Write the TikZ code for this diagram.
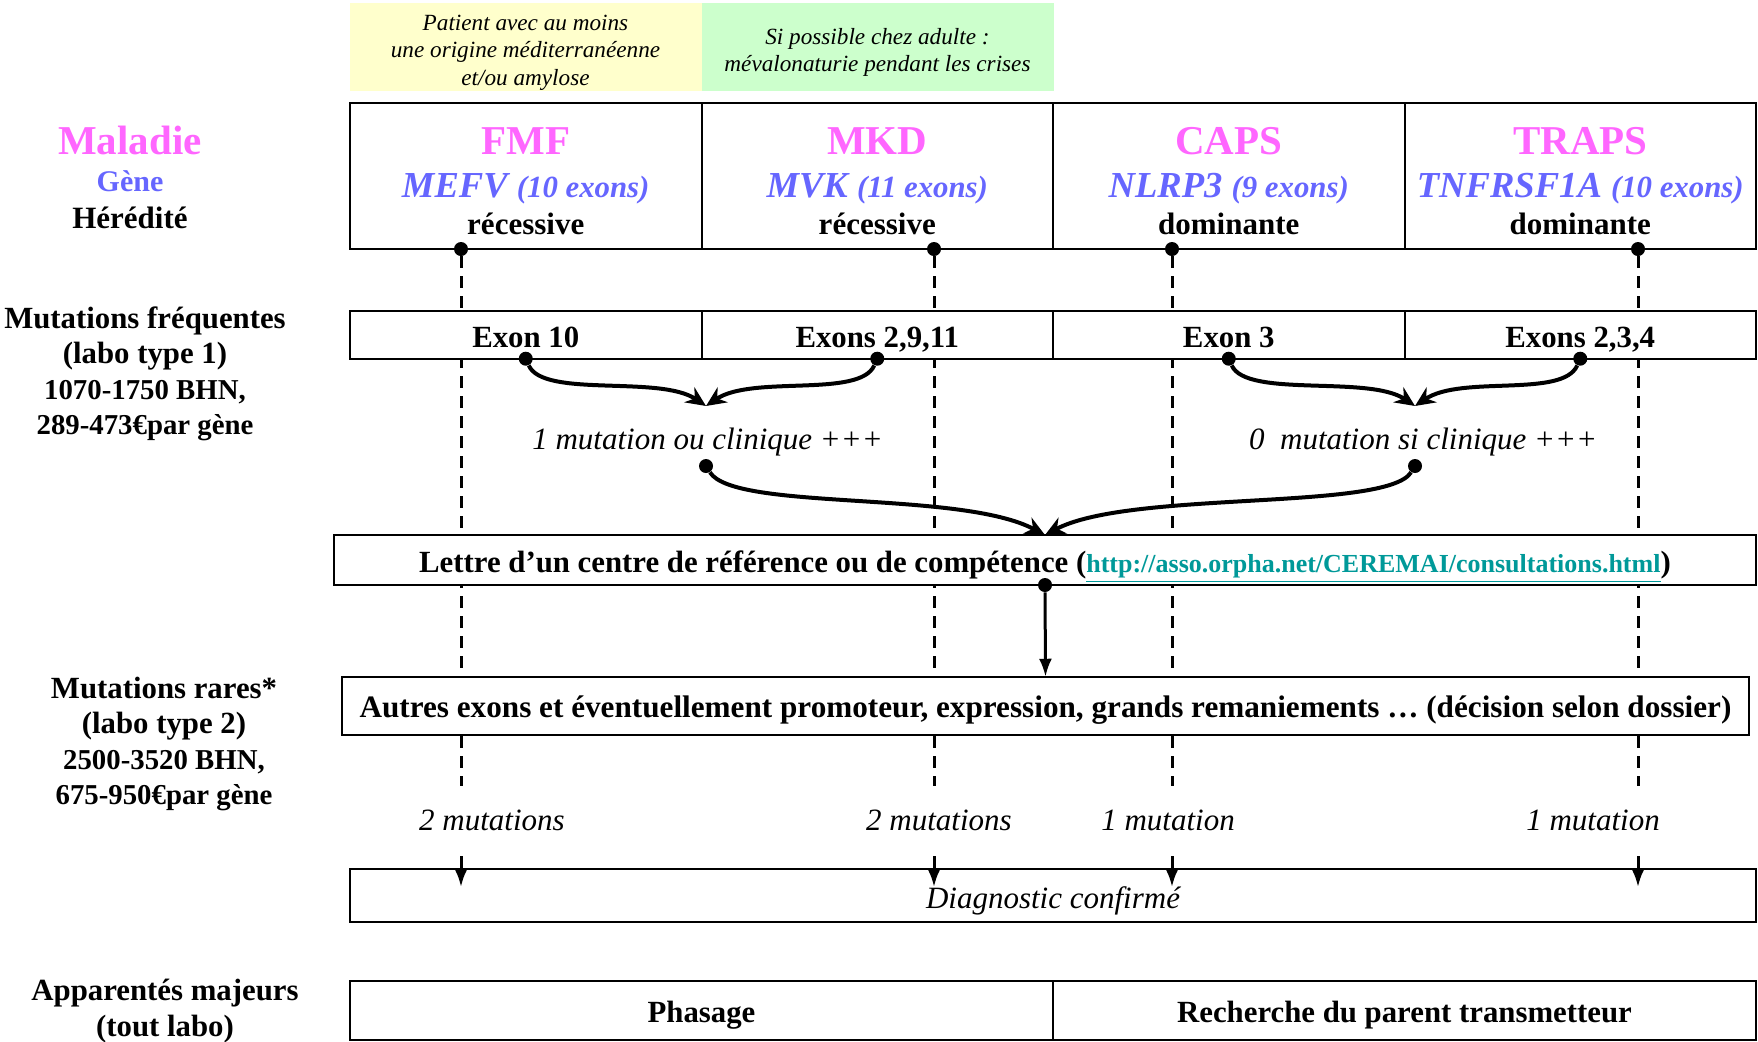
\documentclass[tikz,border=0pt]{standalone}
\usepackage{fontspec}
\setmainfont{Liberation Serif}
\usetikzlibrary{arrows.meta}
\usetikzlibrary{positioning}

\definecolor{maladie}{HTML}{FF66FF}
\definecolor{gene}{HTML}{6666FF}
\definecolor{jaune}{HTML}{FFFFCC}
\definecolor{vert}{HTML}{CCFFCC}
\definecolor{lien}{HTML}{009999}

\newcommand{\exonsub}{\fontsize{15.4}{18}\selectfont}
\newcommand{\prixsize}{\fontsize{14.4}{17.75}\selectfont}

\tikzset{
  cell/.style={draw, line width=1pt, fill=white, inner sep=0pt, outer sep=0pt,
    text height=12.8pt, text depth=0pt,
    font=\fontsize{15.4}{18}\selectfont\bfseries},
  header/.style={cell, minimum width=175.75pt, minimum height=73pt},
  exonrow/.style={cell, minimum width=175.75pt, minimum height=24pt},
  hint/.style={inner sep=0pt, outer sep=0pt, minimum width=176pt, minimum height=44pt},
  hinttext/.style={align=center, inner sep=0pt, font=\fontsize{11.6}{13.75}\selectfont\itshape},
  disease/.style={anchor=base, text=maladie, font=\fontsize{20.5}{24}\selectfont\bfseries},
  genename/.style={anchor=base, text=gene, font=\fontsize{18.3}{22}\selectfont\bfseries\itshape},
  hered/.style={anchor=base, font=\fontsize{15.5}{18}\selectfont\bfseries},
  rowlabel/.style={align=center, inner sep=0pt, font=\fontsize{15.4}{17.75}\selectfont\bfseries},
  result/.style={anchor=base, font=\fontsize{15.5}{18}\selectfont\itshape},
  mutcount/.style={result, fill=white, inner xsep=2pt, inner ysep=12pt},
  dot/.style={circle, fill=black, inner sep=0pt, minimum size=7pt},
  flow/.style={line width=2pt, -{Stealth[length=10pt,width=9pt]}},
  downarrow/.style={line width=1.5pt, -{Latex[length=9pt,width=6.5pt]}},
  track/.style={line width=1.5pt, dash pattern=on 6pt off 4pt, -{Latex[length=9pt,width=6.5pt]}},
}

\begin{document}
\begin{tikzpicture}[x=0.5pt, y=-0.5pt]
  \useasboundingbox (0,0) rectangle (1758,1041);

  % indications au-dessus du tableau
  \node[hint, fill=jaune] (hintfmf) at (525.5,47) {};
  \node[hint, fill=vert, right=0pt of hintfmf] (hintmkd) {};
  \node[hinttext] (hintfmftext) at ([yshift=-2.8pt]hintfmf.center) {Patient avec au moins\\une origine méditerranéenne\\et/ou amylose};
  \node[hinttext] (hintmkdtext) at ([yshift=-2.8pt]hintmkd.center) {Si possible chez adulte :\\mévalonaturie pendant les crises};

  % ligne des maladies
  \node[header] (fmf) at (525.75,176) {};
  \node[header, right=0pt of fmf] (mkd) {};
  \node[header, right=0pt of mkd] (caps) {};
  \node[header, right=0pt of caps] (traps) {};

  \node[disease] (fmfname) at (525.75,154.7) {FMF};
  \node[disease] (mkdname) at (877.25,154.7) {MKD};
  \node[disease] (capsname) at (1228.75,154.7) {CAPS};
  \node[disease] (trapsname) at (1580.25,154.7) {TRAPS};

  \node[genename] (fmfgene) at (525.75,197.3) {MEFV {\exonsub(10 exons)}};
  \node[genename] (mkdgene) at (877.25,197.3) {MVK {\exonsub(11 exons)}};
  \node[genename] (capsgene) at (1228.75,197.3) {NLRP3 {\exonsub(9 exons)}};
  \node[genename] (trapsgene) at (1580.25,197.3) {TNFRSF1A {\exonsub(10 exons)}};

  \node[hered] (fmfhered) at (525.75,234.3) {récessive};
  \node[hered] (mkdhered) at (877.25,234.3) {récessive};
  \node[hered] (capshered) at (1228.75,234.3) {dominante};
  \node[hered] (trapshered) at (1580.25,234.3) {dominante};

  % libellés de gauche
  \node[disease] (maladie) at (130,154.7) {Maladie};
  \node[anchor=base, text=gene, font=\fontsize{15}{18}\selectfont\bfseries] (genelabel) at (130,191.7) {Gène};
  \node[hered] (heredlabel) at (130,228.7) {Hérédité};
  \node[rowlabel] (frequentes) at (145,373.7) {Mutations fréquentes\\(labo type 1)\\{\prixsize 1070-1750 BHN,}\\{\prixsize 289-473€par gène}};
  \node[rowlabel] (rares) at (164,744) {Mutations rares*\\(labo type 2)\\{\prixsize 2500-3520 BHN,}\\{\prixsize 675-950€par gène}};
  \node[rowlabel] (apparentes) at (165,1011) {Apparentés majeurs\\(tout labo)};

  % points de départ des pointillés
  \node[dot] (fmfdot) at (461,249) {};
  \node[dot] (mkddot) at (934,249) {};
  \node[dot] (capsdot) at (1172,249) {};
  \node[dot] (trapsdot) at (1638,249) {};

  \node[cell, minimum width=703pt, minimum height=26.3pt, font=\fontsize{15.5}{18}\selectfont\itshape] (diag) at (1053,895.3) {Diagnostic confirmé};
  \coordinate (fmfend) at (461,887);
  \coordinate (mkdend) at (934,887);
  \coordinate (capsend) at (1172,887);
  \coordinate (trapsend) at (1638,887);

  \draw[track] (fmfdot) -- (fmfend);
  \draw[track] (mkddot) -- (mkdend);
  \draw[track] (capsdot) -- (capsend);
  \draw[track] (trapsdot) -- (trapsend);

  % mutations fréquentes
  \node[exonrow] (fmfex) at (525.75,334.7) {Exon 10};
  \node[exonrow, right=0pt of fmfex] (mkdex) {Exons 2,9,11};
  \node[exonrow, right=0pt of mkdex] (capsex) {Exon 3};
  \node[exonrow, right=0pt of capsex] (trapsex) {Exons 2,3,4};

  \node[cell, minimum width=711pt, minimum height=25pt] (lettre) at (1045,560) {Lettre d’un centre de référence ou de compétence ({\fontsize{13}{16}\selectfont\textcolor{lien}{\underline{http://asso.orpha.net/CEREMAI/consultations.html}}})};
  \node[cell, minimum width=703.5pt, minimum height=29.25pt, text height=11.6pt, font=\fontsize{15.6}{18}\selectfont\bfseries] (autres) at (1045.5,706) {Autres exons et éventuellement promoteur, expression, grands remaniements … (décision selon dossier)};

  \node[mutcount] (fmfcount) at (492,830.8) {2 mutations};
  \node[mutcount] (mkdcount) at (939,830.8) {2 mutations};
  \node[mutcount] (capscount) at (1168,830.8) {1 mutation};
  \node[mutcount] (trapscount) at (1593,830.8) {1 mutation};

  % apparentés
  \node[cell, minimum width=351.5pt, minimum height=29.5pt, text height=12pt] (phasage) at (701.5,1010.5) {Phasage};
  \node[cell, minimum width=351.5pt, minimum height=29.5pt, text height=12pt, right=0pt of phasage] (parent) {Recherche du parent transmetteur};

  % convergence des résultats
  \node[dot] (fmfexdot) at (fmfex.south) {};
  \node[dot] (mkdexdot) at (mkdex.south) {};
  \node[dot] (capsexdot) at (capsex.south) {};
  \node[dot] (trapsexdot) at (trapsex.south) {};

  \coordinate (leftmerge) at (706,406);
  \coordinate (rightmerge) at (1415,406);
  \node[result] (leftres) at (707.5,449.6) {1 mutation ou clinique +++};
  \node[result] (rightres) at (1423,449.6) {0~ mutation si clinique +++};
  \node[dot] (leftresdot) at (706,466) {};
  \node[dot] (rightresdot) at (1415,466) {};
  \node[dot] (lettredot) at (lettre.south) {};

  \draw[flow] (fmfexdot) to[out=-66, in=146, out distance=18pt, in distance=28pt] (leftmerge);
  \draw[flow] (mkdexdot) to[out=-114, in=34, out distance=18pt, in distance=28pt] (leftmerge);
  \draw[flow] (capsexdot) to[out=-66, in=146, out distance=18pt, in distance=28pt] (rightmerge);
  \draw[flow] (trapsexdot) to[out=-114, in=34, out distance=18pt, in distance=28pt] (rightmerge);

  \draw[flow] (leftresdot) to[out=-58, in=152, out distance=23pt, in distance=48pt] (lettre.north);
  \draw[flow] (rightresdot) to[out=-122, in=28, out distance=23pt, in distance=48pt] (lettre.north);
  \draw[downarrow] (lettredot) -- (autres.north);
\end{tikzpicture}
\end{document}
